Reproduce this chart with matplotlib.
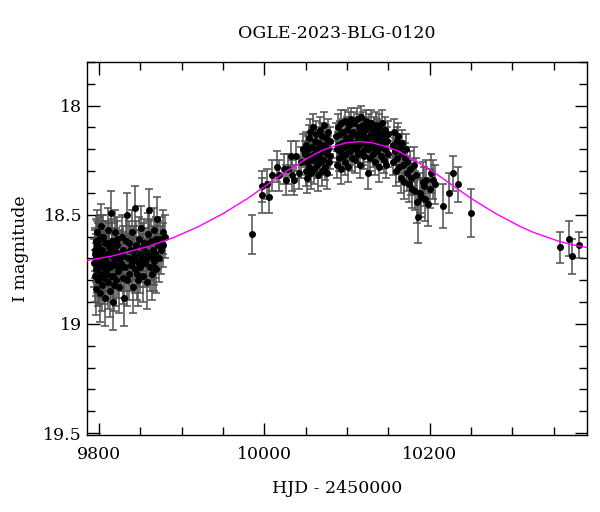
import numpy as np
from matplotlib import pyplot as plt
from matplotlib.ticker import MultipleLocator

# baseline season (first block of points)
base_hjd = [9794.2, 9794.8, 9795.3, 9795.9, 9796.4, 9796.8, 9797.3, 9797.7, 9798.2, 9798.8,
            9799.3, 9799.8, 9800.4, 9800.9, 9801.4, 9802.0, 9802.5, 9803.1, 9803.6, 9804.2,
            9804.8, 9805.3, 9805.9, 9806.5, 9807.2, 9807.8, 9808.5, 9809.2, 9810.0, 9810.8,
            9811.5, 9812.3, 9813.0, 9813.8, 9814.5, 9815.2, 9816.0, 9816.8, 9817.5, 9818.3,
            9819.0, 9819.8, 9820.6, 9821.3, 9822.1, 9823.0, 9824.0, 9825.0, 9826.2, 9827.3,
            9828.5, 9829.6, 9830.7, 9831.8, 9832.9, 9834.0, 9835.0, 9836.2, 9837.5, 9838.8,
            9840.0, 9841.0, 9842.0, 9843.0, 9844.0, 9845.0, 9846.0, 9847.0, 9848.0, 9849.0,
            9850.0, 9851.2, 9852.3, 9853.5, 9854.6, 9855.8, 9856.9, 9858.0, 9859.0, 9860.0,
            9861.0, 9862.0, 9863.0, 9864.0, 9865.0, 9866.0, 9867.0, 9868.0, 9869.0, 9870.0,
            9871.0, 9872.5, 9874.0, 9875.5, 9877.0, 9878.0, 9879.5,
            9795.0, 9796.1, 9797.0, 9798.5, 9799.6, 9801.1, 9802.8, 9804.0, 9805.6, 9806.9,
            9808.1, 9809.6, 9811.1, 9812.6, 9814.1, 9815.6, 9817.1, 9818.7, 9820.2, 9821.7,
            9823.5, 9826.8, 9829.0, 9833.4, 9836.8, 9839.4, 9842.5, 9845.5, 9848.5, 9852.8,
            9857.5, 9860.5, 9863.5, 9866.5, 9869.5]
base_mag = [18.72, 18.66, 18.78, 18.62, 18.70, 18.84, 18.58, 18.75, 18.68, 18.80,
            18.64, 18.73, 18.61, 18.86, 18.69, 18.77, 18.55, 18.71, 18.82, 18.66,
            18.74, 18.60, 18.79, 18.70, 18.88, 18.63, 18.76, 18.68, 18.72, 18.57,
            18.81, 18.65, 18.74, 18.85, 18.49, 18.69, 18.62, 18.78, 18.90, 18.67,
            18.73, 18.58, 18.80, 18.70, 18.64, 18.76, 18.83, 18.68, 18.72, 18.60,
            18.79, 18.66, 18.88, 18.74, 18.62, 18.50, 18.70, 18.77, 18.66, 18.73,
            18.58, 18.83, 18.69, 18.75, 18.47, 18.64, 18.71, 18.80, 18.61, 18.68,
            18.74, 18.56, 18.70, 18.78, 18.63, 18.72, 18.67, 18.81, 18.59, 18.69,
            18.48, 18.74, 18.62, 18.77, 18.66, 18.71, 18.57, 18.68, 18.75, 18.52,
            18.64, 18.70, 18.61, 18.66, 18.58, 18.64, 18.60,
            18.68, 18.75, 18.64, 18.71, 18.79, 18.66, 18.73, 18.60, 18.69, 18.77,
            18.71, 18.63, 18.74, 18.68, 18.78, 18.65, 18.72, 18.82, 18.67, 18.61,
            18.70, 18.74, 18.69, 18.80, 18.63, 18.71, 18.66, 18.77, 18.72, 18.65,
            18.70, 18.63, 18.69, 18.74, 18.61]
base_err = [0.11, 0.10, 0.12, 0.10, 0.11, 0.12, 0.10, 0.11, 0.11, 0.12,
            0.10, 0.11, 0.10, 0.13, 0.11, 0.11, 0.10, 0.11, 0.12, 0.11,
            0.11, 0.10, 0.12, 0.11, 0.13, 0.10, 0.12, 0.11, 0.11, 0.10,
            0.12, 0.11, 0.11, 0.12, 0.10, 0.11, 0.10, 0.12, 0.13, 0.11,
            0.11, 0.10, 0.12, 0.11, 0.11, 0.12, 0.12, 0.11, 0.11, 0.10,
            0.12, 0.11, 0.13, 0.11, 0.11, 0.10, 0.11, 0.12, 0.11, 0.12,
            0.10, 0.12, 0.11, 0.11, 0.10, 0.11, 0.11, 0.12, 0.10, 0.11,
            0.12, 0.10, 0.11, 0.12, 0.11, 0.11, 0.11, 0.12, 0.10, 0.11,
            0.10, 0.11, 0.10, 0.12, 0.11, 0.11, 0.10, 0.11, 0.11, 0.10,
            0.11, 0.11, 0.10, 0.11, 0.10, 0.10, 0.10,
            0.11, 0.12, 0.11, 0.11, 0.12, 0.11, 0.11, 0.10, 0.11, 0.12,
            0.11, 0.10, 0.11, 0.11, 0.12, 0.11, 0.11, 0.12, 0.11, 0.10,
            0.11, 0.11, 0.11, 0.12, 0.10, 0.11, 0.11, 0.12, 0.11, 0.11,
            0.11, 0.10, 0.11, 0.11, 0.10]

# rising branch
rise_hjd = [9984.5, 9996.6, 9996.8, 10002.7, 10005.8, 10009.4, 10014.7, 10017.5, 10023.6,
            10026.3, 10028.8, 10031.7, 10033.6, 10036.0, 10038.4, 10041.7, 10044.5, 10046.8]
rise_mag = [18.59, 18.37, 18.41, 18.36, 18.42, 18.32, 18.28, 18.32, 18.29,
            18.34, 18.29, 18.23, 18.32, 18.34, 18.23, 18.31, 18.26, 18.20]
rise_err = [0.09, 0.07, 0.08, 0.07, 0.07, 0.07, 0.07, 0.07, 0.07,
            0.07, 0.07, 0.07, 0.07, 0.07, 0.07, 0.07, 0.07, 0.07]

# peak
peak_hjd = [10049.0, 10049.8, 10050.5, 10051.3, 10052.0, 10052.8, 10053.5, 10054.3, 10055.0, 10055.8,
            10056.5, 10057.3, 10058.0, 10058.8, 10059.5, 10060.3, 10061.0, 10061.8, 10062.5, 10063.3,
            10064.0, 10064.8, 10065.5, 10066.3, 10067.0, 10067.8, 10068.5, 10069.3, 10070.0, 10070.8,
            10071.5, 10072.3, 10073.0, 10073.8, 10074.5, 10075.3, 10076.0, 10076.8, 10077.5, 10078.3,
            10079.0, 10080.0, 10086.5, 10087.3, 10088.0, 10088.8, 10089.5, 10090.3, 10091.0, 10091.8,
            10092.5, 10093.3, 10094.0, 10094.8, 10095.5, 10096.3, 10097.0, 10097.8, 10098.5, 10099.3,
            10100.0, 10100.8, 10101.5, 10102.3, 10103.0, 10103.8, 10104.5, 10105.3, 10106.0, 10106.8,
            10107.5, 10108.3, 10109.0, 10109.8, 10110.5, 10111.3, 10112.0, 10112.8, 10113.5, 10114.3,
            10115.0, 10115.8, 10116.5, 10117.3, 10118.0, 10118.8, 10119.5, 10120.3, 10121.0, 10121.8,
            10122.5, 10123.3, 10124.0, 10124.8, 10125.5, 10126.3, 10127.0, 10127.8, 10128.5, 10129.3,
            10130.0, 10130.8, 10131.5, 10132.3, 10133.0, 10133.8, 10134.5, 10135.3, 10136.0, 10136.8,
            10137.5, 10138.3, 10139.0, 10139.8, 10140.5, 10141.3, 10142.0, 10142.8, 10143.5, 10144.3,
            10145.0, 10145.8, 10146.5, 10147.3, 10148.0, 10149.0, 10150.0, 10155.0, 10156.0, 10157.0,
            10158.0, 10159.0, 10160.0, 10161.0, 10162.0, 10163.0, 10164.0, 10165.0, 10166.0, 10167.0,
            10168.0, 10169.0, 10170.0, 10171.0, 10172.0, 10173.0]
peak_mag = [18.22, 18.30, 18.18, 18.26, 18.33, 18.20, 18.15, 18.28, 18.23, 18.12,
            18.31, 18.19, 18.25, 18.10, 18.22, 18.29, 18.16, 18.24, 18.13, 18.27,
            18.20, 18.32, 18.17, 18.23, 18.11, 18.26, 18.19, 18.30, 18.14, 18.21,
            18.25, 18.09, 18.18, 18.28, 18.15, 18.22, 18.31, 18.12, 18.20, 18.26,
            18.16, 18.23, 18.14, 18.20, 18.27, 18.10, 18.18, 18.24, 18.13, 18.21,
            18.29, 18.08, 18.17, 18.23, 18.12, 18.19, 18.26, 18.07, 18.15, 18.22,
            18.11, 18.18, 18.28, 18.09, 18.16, 18.21, 18.06, 18.14, 18.24, 18.12,
            18.19, 18.08, 18.17, 18.25, 18.13, 18.20, 18.06, 18.15, 18.22, 18.10,
            18.18, 18.27, 18.12, 18.05, 18.16, 18.21, 18.09, 18.14, 18.23, 18.11,
            18.18, 18.07, 18.15, 18.31, 18.20, 18.10, 18.17, 18.24, 18.13, 18.08,
            18.19, 18.14, 18.22, 18.11, 18.17, 18.26, 18.09, 18.15, 18.21, 18.12,
            18.18, 18.28, 18.10, 18.16, 18.23, 18.13, 18.19, 18.08, 18.17, 18.25,
            18.14, 18.20, 18.11, 18.27, 18.16, 18.22, 18.13, 18.18, 18.26, 18.12,
            18.21, 18.30, 18.16, 18.24, 18.14, 18.28, 18.19, 18.33, 18.22, 18.17,
            18.27, 18.35, 18.24, 18.20, 18.31, 18.26]
peak_err = [0.06, 0.07, 0.06, 0.06, 0.07, 0.06, 0.06, 0.07, 0.06, 0.06,
            0.07, 0.06, 0.06, 0.06, 0.06, 0.07, 0.06, 0.06, 0.06, 0.06,
            0.06, 0.07, 0.06, 0.06, 0.06, 0.06, 0.06, 0.07, 0.06, 0.06,
            0.06, 0.06, 0.06, 0.06, 0.06, 0.06, 0.07, 0.06, 0.06, 0.06,
            0.06, 0.06, 0.06, 0.06, 0.06, 0.06, 0.06, 0.06, 0.06, 0.06,
            0.07, 0.06, 0.06, 0.06, 0.06, 0.06, 0.06, 0.05, 0.06, 0.06,
            0.06, 0.06, 0.07, 0.06, 0.06, 0.06, 0.05, 0.06, 0.06, 0.06,
            0.06, 0.05, 0.06, 0.06, 0.06, 0.06, 0.05, 0.06, 0.06, 0.06,
            0.06, 0.06, 0.06, 0.05, 0.06, 0.06, 0.06, 0.06, 0.06, 0.06,
            0.06, 0.05, 0.06, 0.07, 0.06, 0.06, 0.06, 0.06, 0.06, 0.06,
            0.06, 0.06, 0.06, 0.06, 0.06, 0.06, 0.06, 0.06, 0.06, 0.06,
            0.06, 0.07, 0.06, 0.06, 0.06, 0.06, 0.06, 0.06, 0.06, 0.06,
            0.06, 0.06, 0.06, 0.06, 0.06, 0.06, 0.06, 0.06, 0.06, 0.06,
            0.06, 0.07, 0.06, 0.06, 0.06, 0.07, 0.06, 0.07, 0.06, 0.06,
            0.07, 0.08, 0.07, 0.07, 0.08, 0.07]

# falling branch
fall_hjd = [10174.6, 10176.0, 10177.5, 10179.0, 10180.5, 10182.0, 10183.5, 10185.0, 10186.3, 10188.0,
            10190.0, 10191.5, 10193.0, 10194.0, 10196.0, 10198.0, 10200.0, 10202.0, 10204.0, 10207.0,
            10215.7, 10223.0, 10227.8, 10233.8, 10249.5]
fall_mag = [18.36, 18.29, 18.33, 18.38, 18.27, 18.39, 18.32, 18.44, 18.51, 18.40,
            18.42, 18.35, 18.37, 18.43, 18.34, 18.45, 18.38, 18.31, 18.34, 18.36,
            18.46, 18.40, 18.31, 18.36, 18.49]
fall_err = [0.08, 0.08, 0.08, 0.09, 0.08, 0.09, 0.08, 0.10, 0.12, 0.09,
            0.09, 0.09, 0.09, 0.10, 0.09, 0.10, 0.09, 0.09, 0.09, 0.09,
            0.10, 0.09, 0.08, 0.08, 0.11]

# late baseline
late_hjd = [10358.0, 10369.0, 10372.6, 10380.0]
late_mag = [18.65, 18.61, 18.69, 18.64]
late_err = [0.07, 0.08, 0.08, 0.06]

# model curve
model_hjd = [9785, 9800, 9815, 9830, 9845, 9860, 9875, 9890, 9905, 9920, 9935, 9950, 9965,
             9980, 9995, 10010, 10025, 10040, 10055, 10070, 10085, 10100, 10115, 10130,
             10145, 10160, 10175, 10190, 10205, 10220, 10235, 10250, 10265, 10280, 10295,
             10310, 10325, 10340, 10355, 10370, 10390]
model_mag = [18.71, 18.70, 18.69, 18.675, 18.66, 18.645, 18.625, 18.605, 18.58, 18.555,
             18.525, 18.495, 18.46, 18.425, 18.385, 18.345, 18.305, 18.27, 18.235, 18.205,
             18.185, 18.17, 18.165, 18.17, 18.185, 18.205, 18.235, 18.27, 18.305, 18.345,
             18.385, 18.425, 18.46, 18.495, 18.525, 18.555, 18.58, 18.60, 18.62, 18.635,
             18.65]

hjd = base_hjd + rise_hjd + peak_hjd + fall_hjd + late_hjd
mag = base_mag + rise_mag + peak_mag + fall_mag + late_mag
err = base_err + rise_err + peak_err + fall_err + late_err

plt.rcParams['font.family'] = ['DejaVu Serif']
fig = plt.figure(figsize=(6, 5.12), dpi=100)
ax = fig.add_axes([0.145, 0.150, 0.833, 0.729])

ax.plot(model_hjd, model_mag, '-', color='#ff00ff', lw=1, zorder=3)
ax.errorbar(hjd, mag, yerr=err, fmt='o', color='black', ms=4,
            ecolor='#505050', elinewidth=1.1, capsize=3, capthick=1.1, zorder=2)

ax.set_xlim(9785.5, 10390)
ax.set_ylim(19.51, 17.8)
ax.xaxis.set_major_locator(MultipleLocator(200))
ax.xaxis.set_minor_locator(MultipleLocator(50))
ax.yaxis.set_major_locator(MultipleLocator(0.5))
ax.yaxis.set_minor_locator(MultipleLocator(0.1))
ax.yaxis.set_major_formatter(plt.FuncFormatter(lambda v, p: '%g' % v))
ax.tick_params(which='both', direction='in', top=True, right=True, labelsize=12.5)
ax.tick_params(axis='x', pad=8)
ax.tick_params(which='major', length=9, width=1)
ax.tick_params(which='minor', length=6, width=1)
for s in ax.spines.values():
    s.set_linewidth(1)

ax.set_title('OGLE-2023-BLG-0120', fontsize=12.5, pad=17)
ax.set_xlabel('HJD - 2450000', fontsize=12.5, labelpad=12)
ax.set_ylabel('I magnitude', fontsize=12.5, labelpad=10)

fig.savefig('out.png', dpi=100)
